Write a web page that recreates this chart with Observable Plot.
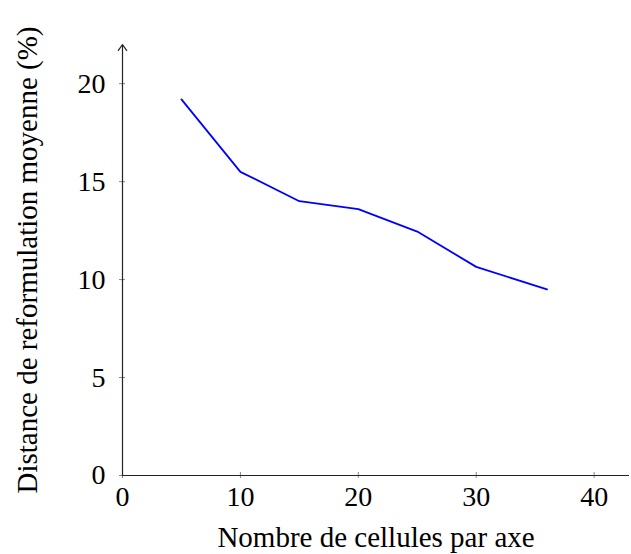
<!DOCTYPE html>
<html>
<head>
<meta charset="utf-8">
<script src="https://cdn.jsdelivr.net/npm/d3@7"></script>
<script src="https://cdn.jsdelivr.net/npm/@observablehq/plot@0.6"></script>
<style>
  html, body { margin: 0; padding: 0; background: #fff; }
</style>
</head>
<body>
<div id="chart"></div>
<script>
const cells = [5, 10, 15, 20, 25, 30, 36];
const distance = [19.2, 15.5, 14.0, 13.6, 12.45, 10.65, 9.5];
const xTicks = [0, 10, 20, 30, 40];
const yTicks = [0, 5, 10, 15, 20];
const xLabel = "Nombre de cellules par axe";
const yLabel = "Distance de reformulation moyenne (%)";

const data = cells.map((c, i) => ({x: c, y: distance[i]}));
const font = "'Liberation Serif', 'DejaVu Serif', serif";

const chart = Plot.plot({
  width: 631,
  height: 554,
  marginLeft: 122,
  marginRight: 2,
  marginTop: 44,
  marginBottom: 79,
  style: {fontFamily: font, fontSize: "28px", color: "#000", background: "#fff"},
  x: {domain: [0, 43]},
  y: {domain: [0, 22]},
  marks: [
    Plot.axisX({ticks: xTicks, tickSize: 6, dy: -3, text: null, stroke: "#888", label: null}),
    Plot.axisY({ticks: yTicks, tickSize: 6, dx: 3, text: null, stroke: "#888", label: null}),
    Plot.axisX({ticks: xTicks, tickSize: 0, tickPadding: 11, fontSize: 28, label: null}),
    Plot.axisY({ticks: yTicks, tickSize: 0, tickPadding: 17, fontSize: 28, label: null}),
    Plot.axisX({ticks: [], tickSize: 0, fontSize: 29, label: xLabel, labelAnchor: "center", labelArrow: "none", labelOffset: 71}),
    Plot.axisY({ticks: [], tickSize: 0, fontSize: 29, label: yLabel, labelAnchor: "center", labelArrow: "none", labelOffset: 106}),
    Plot.ruleY([0], {x1: 0, x2: 43, stroke: "#222", strokeWidth: 1.2}),
    Plot.arrow([{x1: 0, y1: 0, x2: 0, y2: 22}], {x1: "x1", y1: "y1", x2: "x2", y2: "y2", stroke: "#222", strokeWidth: 1.2, headLength: 9, headAngle: 70}),
    Plot.line(data, {x: "x", y: "y", stroke: "#0000ff", strokeWidth: 1.8})
  ]
});
document.getElementById("chart").appendChild(chart);
</script>
</body>
</html>
